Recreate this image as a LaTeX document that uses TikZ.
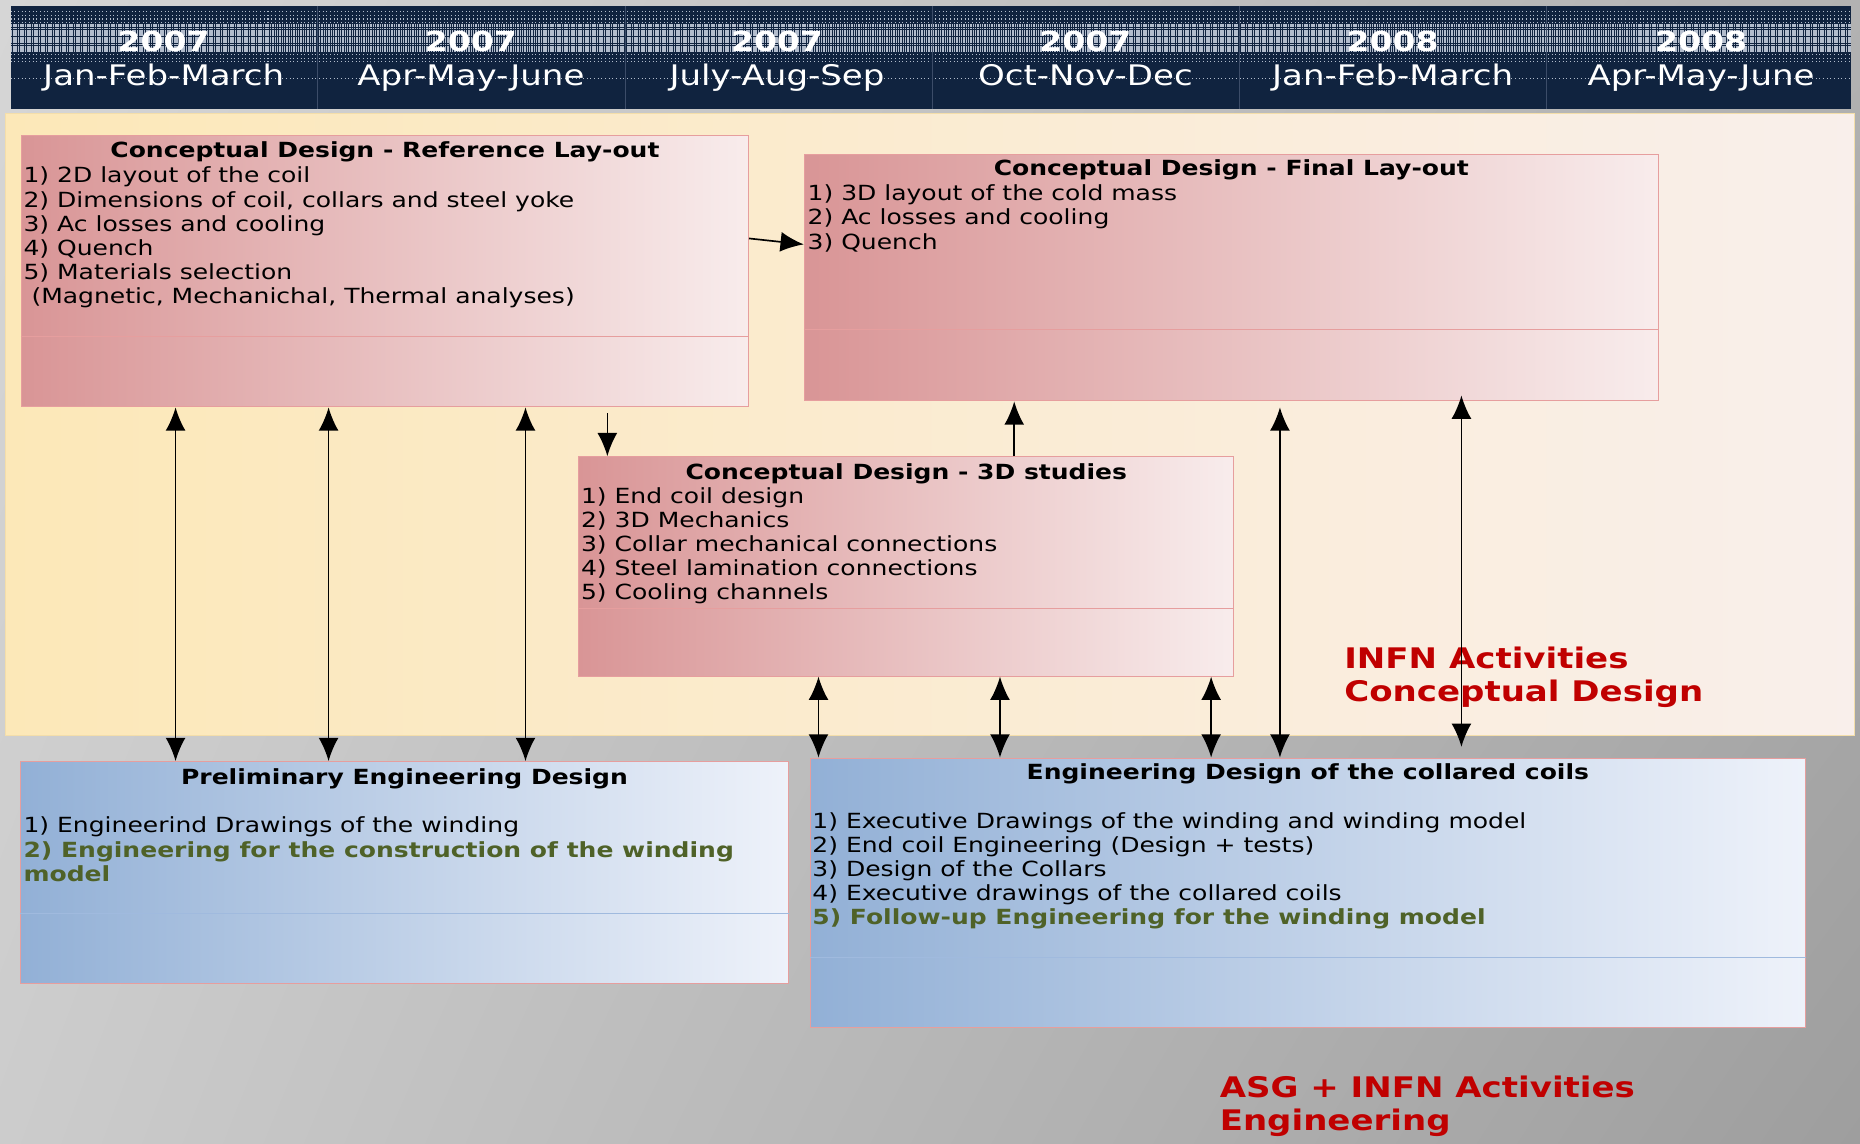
\documentclass[tikz,border=0pt]{standalone}
\usepackage{fontspec}
\setmainfont[FakeStretch=1.2]{DejaVu Sans}
\usepackage{tikz}
\usetikzlibrary{arrows.meta, positioning, fit, shadings}

\definecolor{navyhead}{RGB}{16,35,63}
\definecolor{headdots}{RGB}{178,188,204}
\definecolor{colline}{RGB}{60,76,104}
\definecolor{panelleft}{RGB}{252,232,184}
\definecolor{panelright}{RGB}{249,239,235}
\definecolor{panelrim}{RGB}{244,222,170}
\definecolor{roseleft}{RGB}{217,149,150}
\definecolor{roseright}{RGB}{248,236,236}
\definecolor{roserim}{RGB}{230,158,158}
\definecolor{blueleft}{RGB}{146,176,214}
\definecolor{blueright}{RGB}{238,242,250}
\definecolor{bluerim}{RGB}{160,186,222}
\definecolor{infnred}{RGB}{192,0,0}
\definecolor{itemgreen}{RGB}{79,98,40}
\definecolor{bgul}{RGB}{214,214,214}
\definecolor{bgur}{RGB}{178,178,178}
\definecolor{bgll}{RGB}{204,204,204}
\definecolor{bglr}{RGB}{158,158,158}

\begin{document}
\begin{tikzpicture}[x=0.25mm, y=-0.25mm, >={Latex[length=4.9mm,width=4.2mm]},
    panel/.style={draw=panelrim, line width=0.6pt, left color=panelleft, right color=panelright, inner sep=0pt},
    rosebox/.style={draw=roserim, line width=0.6pt, left color=roseleft, right color=roseright, inner sep=0pt},
    bluebox/.style={draw=roserim, line width=0.6pt, left color=blueleft, right color=blueright, inner sep=0pt},
    rosediv/.style={draw=roserim, line width=0.6pt},
    bluediv/.style={draw=bluerim, line width=0.8pt},
    boxtitle/.style={font=\fontsize{12.5}{14.5}\selectfont\bfseries, inner sep=0pt},
    boxitems/.style={font=\fontsize{12.5}{14.5}\selectfont, align=left, inner sep=0pt},
    yearlbl/.style={text=white, font=\fontsize{16.5}{18}\selectfont\bfseries, anchor=base, inner sep=0pt},
    monthlbl/.style={text=white, font=\fontsize{17}{18}\selectfont, anchor=base, inner sep=0pt},
    actlbl/.style={text=infnred, font=\fontsize{17}{19.9}\selectfont\bfseries, align=left, anchor=north west, inner sep=0pt},
    coldiv/.style={draw=colline, line width=0.5pt},
    dotrow/.style={draw=headdots, line width=0.7pt, dash pattern=on 0.6pt off 1.6pt},
    denserow/.style={draw=headdots, line width=0.9pt, dash pattern=on 0.9pt off 0.5pt},
    link/.style={->, line width=1pt},
    both/.style={<->, line width=1pt}]
  \useasboundingbox (0,0) rectangle (1568,964);
  \shade[upper left=bgul, upper right=bgur, lower left=bgll, lower right=bglr] (0,0) rectangle (1568,964);

  % time line
  \fill[navyhead] (9,5) rectangle (1560,92);
  \foreach \yy in {10,13,16,19,46,49,52}
    \draw[dotrow] (9,\yy) -- (1560,\yy);
  \foreach \yy in {21,22.5,...,44}
    \draw[denserow] (9,\yy) -- (1560,\yy);
  \draw[dotrow] (9,66) -- (1560,66);
  \draw[coldiv] (268,5) -- (268,92);
  \draw[coldiv] (527,5) -- (527,92);
  \draw[coldiv] (786,5) -- (786,92);
  \draw[coldiv] (1045,5) -- (1045,92);
  \draw[coldiv] (1304,5) -- (1304,92);
  \node[yearlbl] (y_1) at (138,43.5) {2007};
  \node[yearlbl] (y_2) at (397,43.5) {2007};
  \node[yearlbl] (y_3) at (655,43.5) {2007};
  \node[yearlbl] (y_4) at (915,43.5) {2007};
  \node[yearlbl] (y_5) at (1174,43.5) {2008};
  \node[yearlbl] (y_6) at (1434,43.5) {2008};
  \node[monthlbl] (m_1) at (138,72) {Jan-Feb-March};
  \node[monthlbl] (m_2) at (397,72) {Apr-May-June};
  \node[monthlbl] (m_3) at (655,72) {July-Aug-Sep};
  \node[monthlbl] (m_4) at (915,72) {Oct-Nov-Dec};
  \node[monthlbl] (m_5) at (1174,72) {Jan-Feb-March};
  \node[monthlbl] (m_6) at (1434,72) {Apr-May-June};

  % conceptual design
  \node[panel, fit={(5,96) (1563,620)}] (infn) {};
  \node[rosebox, fit={(18,114) (631,343)}] (reflay) {};
  \node[rosebox, fit={(678,130) (1398,338)}] (finlay) {};
  \node[rosebox, fit={(488,385) (1040,570)}] (threed) {};
  \draw[rosediv] (reflay.west |- 0,284) -- (reflay.east |- 0,284);
  \draw[rosediv] (finlay.west |- 0,278) -- (finlay.east |- 0,278);
  \draw[rosediv] (threed.west |- 0,513) -- (threed.east |- 0,513);

  \node[boxtitle, below=1.4mm of reflay.north] (reflay_t) {Conceptual Design - Reference Lay-out};
  \node[boxitems, below right=6.75mm and 0.5mm of reflay.north west] (reflay_i)
    {1) 2D layout of the coil\\
     2) Dimensions of coil, collars and steel yoke\\
     3) Ac losses and cooling\\
     4) Quench\\
     5) Materials selection\\
     \ (Magnetic, Mechanichal, Thermal analyses)};
  \node[boxtitle, below=1.25mm of finlay.north] (finlay_t) {Conceptual Design - Final Lay-out};
  \node[boxitems, below right=6.5mm and 0.75mm of finlay.north west] (finlay_i)
    {1) 3D layout of the cold mass\\
     2) Ac losses and cooling\\
     3) Quench};
  \node[boxtitle, below=1.5mm of threed.north] (threed_t) {Conceptual Design - 3D studies};
  \node[boxitems, below right=6.5mm and 0.5mm of threed.north west] (threed_i)
    {1) End coil design\\
     2) 3D Mechanics\\
     3) Collar mechanical connections\\
     4) Steel lamination connections\\
     5) Cooling channels};

  % engineering
  \node[bluebox, fit={(17,642) (665,829)}] (prelim) {};
  \node[bluebox, fit={(683,639) (1522,866)}] (collared) {};
  \draw[bluediv] (prelim.west |- 0,770) -- (prelim.east |- 0,770);
  \draw[bluediv] (collared.west |- 0,807) -- (collared.east |- 0,807);

  \node[boxtitle, below=1.5mm of prelim.north] (prelim_t) {Preliminary Engineering Design};
  \node[boxitems, below right=11.75mm and 0.75mm of prelim.north west] (prelim_i)
    {1) Engineerind Drawings of the winding\\
     \textcolor{itemgreen}{\bfseries 2) Engineering for the construction of the winding}\\
     \textcolor{itemgreen}{\bfseries model}};
  \node[boxtitle, below=1.25mm of collared.north] (collared_t) {Engineering Design of the collared coils};
  \node[boxitems, below right=11.5mm and 0.5mm of collared.north west] (collared_i)
    {1) Executive Drawings of the winding and winding model\\
     2) End coil Engineering (Design + tests)\\
     3) Design of the Collars\\
     4) Executive drawings of the collared coils\\
     \textcolor{itemgreen}{\bfseries 5) Follow-up Engineering for the winding model}};

  \node[actlbl] (infn_l) at (1133,545) {INFN Activities\\Conceptual Design};
  \node[actlbl] (asg_l) at (1028,907) {ASG + INFN Activities\\Engineering};

  % links
  \draw[link] (reflay.east |- 0,201) -- (finlay.west |- 0,206);
  \draw[link, shorten <=1.25mm] (512,0 |- reflay.south) -- (512,0 |- threed.north);
  \draw[link] (855,0 |- threed.north) -- (855,0 |- finlay.south);
  \path[both]
    (148,0 |- reflay.south) edge (148,0 |- prelim.north)
    (277,0 |- reflay.south) edge (277,0 |- prelim.north)
    (443,0 |- reflay.south) edge (443,0 |- prelim.north)
    (690,0 |- threed.south) edge (690,0 |- collared.north)
    (843,0 |- threed.south) edge (843,0 |- collared.north)
    (1021,0 |- threed.south) edge (1021,0 |- collared.north)
    (1079,0 |- finlay.south) edge[shorten <=1.25mm] (1079,0 |- collared.north)
    (1232,0 |- finlay.south) edge[shorten <=-1.25mm, shorten >=2.25mm] (1232,0 |- collared.north);
\end{tikzpicture}
\end{document}
